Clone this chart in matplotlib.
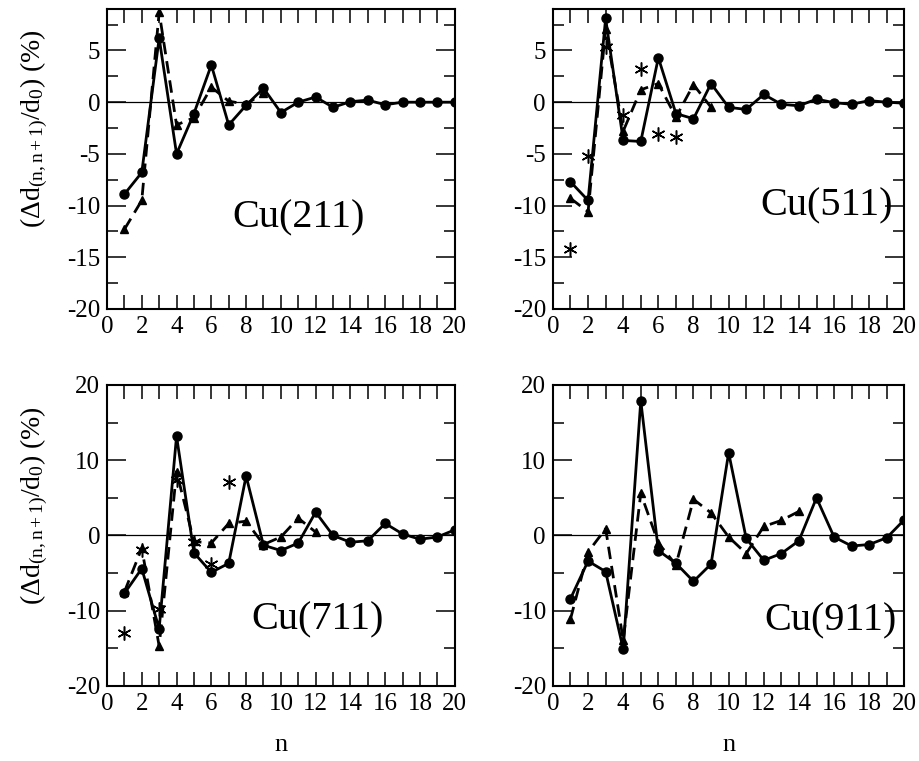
import numpy as np
import matplotlib
matplotlib.use('Agg')
import matplotlib.pyplot as plt
from matplotlib.ticker import MultipleLocator

plt.rcParams['font.family'] = ['Liberation Serif', 'DejaVu Serif']
plt.rcParams['mathtext.fontset'] = 'custom'
plt.rcParams['mathtext.rm'] = 'Liberation Serif'
plt.rcParams['mathtext.it'] = 'Liberation Serif:italic'
plt.rcParams['axes.unicode_minus'] = False

# layer index n
n20 = np.arange(1, 21)

# Cu(211)
cu211_solid = [-8.9, -6.8, 6.2, -5.0, -1.1, 3.6, -2.2, -0.3, 1.35, -1.0,
               0.0, 0.5, -0.5, 0.05, 0.2, -0.25, 0.0, 0.0, 0.0, 0.0]
cu211_dash_n = [1, 2, 3, 4, 5, 6, 7, 8, 9]
cu211_dash = [-12.3, -9.5, 8.7, -2.2, -1.5, 1.45, 0.1, -0.2, 0.9]

# Cu(511)
cu511_solid = [-7.7, -9.5, 8.1, -3.7, -3.8, 4.3, -1.1, -1.6, 1.8, -0.5,
               -0.7, 0.75, -0.2, -0.35, 0.3, -0.05, -0.2, 0.15, 0.0, -0.1]
cu511_dash_n = [1, 2, 3, 4, 5, 6, 7, 8, 9]
cu511_dash = [-9.3, -10.6, 7.1, -2.8, 1.2, 1.8, -1.45, 1.7, -0.5]
cu511_star_n = [1, 2, 3, 4, 5, 6, 7]
cu511_star = [-14.2, -5.2, 5.3, -1.2, 3.2, -3.1, -3.4]

# Cu(711)
cu711_solid = [-7.7, -4.4, -12.4, 13.2, -2.3, -4.9, -3.7, 7.9, -1.3, -2.0,
               -1.0, 3.1, 0.0, -0.9, -0.7, 1.6, 0.2, -0.5, -0.2, 0.75]
cu711_dash_n = [1, 2, 3, 4, 5, 6, 7, 8, 9, 10, 11, 12]
cu711_dash = [-7.5, -1.7, -14.7, 8.5, -0.8, -1.0, 1.6, 1.9, -1.2, -0.2, 2.3, 0.45]
cu711_star_n = [1, 2, 3, 4, 5, 6, 7]
cu711_star = [-12.9, -1.9, -9.8, 7.4, -0.9, -3.8, 7.1]

# Cu(911)
cu911_solid = [-8.4, -3.4, -4.8, -15.1, 17.9, -2.0, -3.7, -6.1, -3.8, 11.0,
               -0.4, -3.3, -2.4, -0.7, 5.0, -0.2, -1.4, -1.2, -0.3, 2.1]
cu911_dash_n = [1, 2, 3, 4, 5, 6, 7, 8, 9, 10, 11, 12, 13, 14]
cu911_dash = [-11.1, -2.2, 0.9, -13.9, 5.6, -1.0, -3.9, 4.8, 3.0, -0.2,
              -2.4, 1.2, 2.0, 3.2]

panels = [
    ('Cu(211)', cu211_solid, cu211_dash_n, cu211_dash, None, None, (11.0, -11.2)),
    ('Cu(511)', cu511_solid, cu511_dash_n, cu511_dash, cu511_star_n, cu511_star, (15.6, -10.0)),
    ('Cu(711)', cu711_solid, cu711_dash_n, cu711_dash, cu711_star_n, cu711_star, (12.1, -11.2)),
    ('Cu(911)', cu911_solid, cu911_dash_n, cu911_dash, None, None, (15.8, -11.3)),
]

fig = plt.figure(figsize=(9.2, 7.61), dpi=100)
rects = [
    (0.1163, 0.594, 0.378, 0.394),
    (0.601, 0.594, 0.382, 0.394),
    (0.1163, 0.0986, 0.378, 0.3955),
    (0.601, 0.0986, 0.382, 0.3955),
]

ylabel = r'$(\Delta\mathrm{d}_{(\mathrm{n,n+1})}/\mathrm{d}_0)$ (%)'

for i, (name, solid, dn, dash, sn, star, tpos) in enumerate(panels):
    ax = fig.add_axes(rects[i])
    ax.axhline(0, color='black', lw=0.9, zorder=1)
    ax.plot(n20, solid, '-', color='black', lw=2.0, marker='o', ms=6.5, zorder=3)
    ax.plot(dn, dash, color='black', lw=2.0, ls=(0, (4.5, 2.5)),
            marker='^', ms=6, zorder=2)
    if star is not None:
        ax.plot(sn, star, ls='none', color='black', marker=(6, 2, 0),
                ms=10, mew=1.1, zorder=4)
    ax.text(tpos[0], tpos[1], name, fontsize=29, ha='center', va='center')

    ax.set_xlim(0, 20)
    ax.xaxis.set_major_locator(MultipleLocator(2))
    ax.xaxis.set_minor_locator(MultipleLocator(1))
    if i < 2:
        ax.set_ylim(-20, 9)
        ax.yaxis.set_major_locator(MultipleLocator(5))
        ax.yaxis.set_minor_locator(MultipleLocator(2.5))
    else:
        ax.set_ylim(-20, 20)
        ax.yaxis.set_major_locator(MultipleLocator(10))
        ax.yaxis.set_minor_locator(MultipleLocator(5))
        ax.set_xlabel('n', fontsize=19, labelpad=14)

    ax.tick_params(axis='both', which='both', direction='in', top=True, right=True,
                   labelsize=18, width=1.1, pad=5)
    ax.tick_params(axis='x', which='both', length=10)
    ax.tick_params(axis='y', which='major', length=14)
    ax.tick_params(axis='y', which='minor', length=8)
    for sp in ax.spines.values():
        sp.set_linewidth(1.5)

    if i % 2 == 0:
        ax.set_ylabel(ylabel, fontsize=20)
        ax.yaxis.set_label_coords(-0.165, 0.6)

fig.savefig('out.png', dpi=100)
